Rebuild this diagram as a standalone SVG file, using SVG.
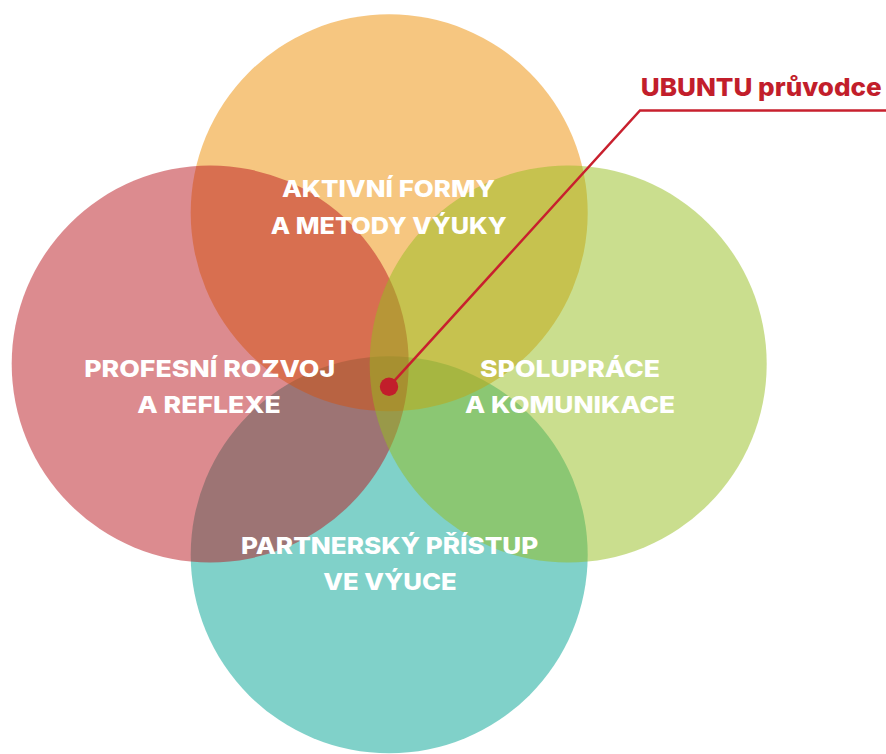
<svg xmlns="http://www.w3.org/2000/svg" width="886" height="754" viewBox="0 0 886 754">
  <style>
    .c { fill-opacity: 0.5; stroke: none; }
    .lbl { font-family: Inter, "Liberation Sans", sans-serif; font-weight: 800; font-size: 23.5px; fill: #ffffff; text-anchor: middle; }
    .callout { font-family: Inter, "Liberation Sans", sans-serif; font-weight: 800; font-size: 25px; fill: #C21E2B; }
  </style>
  <rect width="886" height="754" fill="#ffffff"/>
  <g id="circles">
    <g id="node-bottom"><circle class="c" cx="389.2" cy="554.8" r="198.5" fill="#01A393"/></g>
    <g id="node-top"><circle class="c" cx="389.2" cy="212.8" r="198.5" fill="#ED8D01"/></g>
    <g id="node-left"><circle class="c" cx="210.2" cy="364" r="198.5" fill="#B9171F"/></g>
    <g id="node-right"><circle class="c" cx="568.2" cy="364" r="198.5" fill="#95BD1D"/></g>
  </g>
  <g id="labels">
    <g id="label-top">
      <text class="lbl" x="388.4" y="196.7" textLength="213" lengthAdjust="spacingAndGlyphs">AKTIVNÍ FORMY</text>
      <text class="lbl" x="388.7" y="234" textLength="236" lengthAdjust="spacingAndGlyphs">A METODY VÝUKY</text>
    </g>
    <g id="label-left">
      <text class="lbl" x="209.7" y="377" textLength="251" lengthAdjust="spacingAndGlyphs">PROFESNÍ ROZVOJ</text>
      <text class="lbl" x="209" y="413" textLength="143.4" lengthAdjust="spacingAndGlyphs">A REFLEXE</text>
    </g>
    <g id="label-right">
      <text class="lbl" x="570" y="376.5" textLength="180" lengthAdjust="spacingAndGlyphs">SPOLUPRÁCE</text>
      <text class="lbl" x="570" y="413.3" textLength="210" lengthAdjust="spacingAndGlyphs">A KOMUNIKACE</text>
    </g>
    <g id="label-bottom">
      <text class="lbl" x="389.7" y="553.5" textLength="297.3" lengthAdjust="spacingAndGlyphs">PARTNERSKÝ PŘÍSTUP</text>
      <text class="lbl" x="390" y="590" textLength="133.4" lengthAdjust="spacingAndGlyphs">VE VÝUCE</text>
    </g>
  </g>
  <g id="connectors">
    <polyline points="389,386.7 640,110.5 886,110.5" fill="none" stroke="#C8202E" stroke-width="2.5"/>
    <circle cx="389" cy="386.7" r="9.2" fill="#C21E2B"/>
  </g>
  <g id="callout-label">
    <text class="callout" x="640.7" y="95.5" textLength="241" lengthAdjust="spacingAndGlyphs">UBUNTU průvodce</text>
  </g>
</svg>
